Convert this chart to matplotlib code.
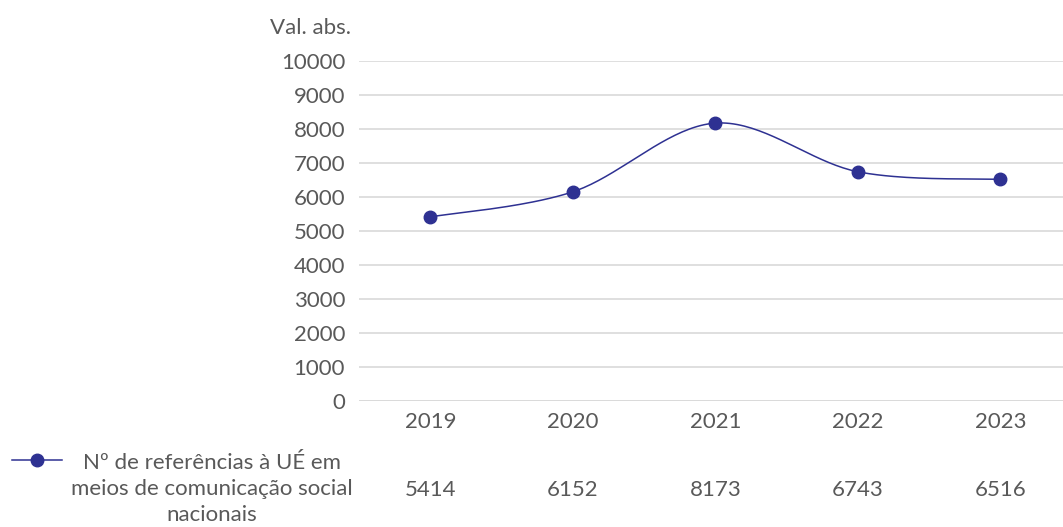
import numpy as np
import matplotlib.pyplot as plt
from matplotlib.transforms import blended_transform_factory
from matplotlib.lines import Line2D

plt.rcParams['font.family'] = ['Lato', 'DejaVu Sans']

years = ['2019', '2020', '2021', '2022', '2023']
values = [5414, 6152, 8173, 6743, 6516]
series_name = 'Nº de referências à UÉ em\nmeios de comunicação social\nnacionais'
y_title = 'Val. abs.'

text_col = '#595959'
line_col = '#2E3192'
grid_col = '#D9D9D9'
fs = 16


def smooth_curve(x, y, yscale, n=40):
    # Excel-like smoothing: Bezier segments with Catmull-Rom control points (1/6)
    px = np.array(x, dtype=float)
    py = np.array(y, dtype=float) * yscale
    P = np.column_stack([px, py])
    P = np.vstack([P[0], P, P[-1]])
    out = []
    t = np.linspace(0, 1, n)[:, None]
    for i in range(1, len(P) - 2):
        p0, p1 = P[i], P[i + 1]
        c1 = p0 + (P[i + 1] - P[i - 1]) / 6
        c2 = p1 - (P[i + 2] - P[i]) / 6
        seg = (1 - t) ** 3 * p0 + 3 * (1 - t) ** 2 * t * c1 + 3 * (1 - t) * t ** 2 * c2 + t ** 3 * p1
        out.append(seg)
    out = np.vstack(out)
    return out[:, 0], out[:, 1] / yscale


fig = plt.figure(figsize=(10.63, 5.27), dpi=100)
ax = fig.add_axes([359 / 1063, 126 / 527, 1 - 359 / 1063, 340 / 527])

x = np.arange(len(years))
# pixels per unit: x 142.5, y 0.034
sx, sy = smooth_curve(x, values, 0.034 / 142.5)
ax.plot(sx, sy, color=line_col, lw=1.1, zorder=3)
ax.plot(x, values, 'o', color=line_col, ms=9, zorder=4)

ax.set_xlim(-0.5, 4.44)
ax.set_ylim(0, 10000)
ax.set_yticks(np.arange(0, 10001, 1000))
ax.yaxis.grid(True, color=grid_col, lw=1.2)
ax.set_axisbelow(True)
for s in ax.spines.values():
    s.set_visible(False)
ax.axhline(0, color=grid_col, lw=1.2)
ax.tick_params(axis='y', length=0, pad=10, labelsize=fs, labelcolor=text_col)
ax.set_xticks(x)
ax.set_xticklabels(years)
ax.tick_params(axis='x', length=0, pad=8, labelsize=fs, labelcolor=text_col)

fig.text(310 / 1063, 1 - 28 / 527, y_title, ha='center', va='center',
         fontsize=fs, color=text_col)

# data table row
trans = blended_transform_factory(ax.transData, fig.transFigure)
for xi, v in zip(x, values):
    ax.text(xi, 1 - 490 / 527, str(v), transform=trans, ha='center', va='center',
            fontsize=fs, color=text_col)

fig.text(212 / 1063, 1 - 489 / 527, series_name, ha='center', va='center',
         fontsize=fs, color=text_col, linespacing=1.38)
fig.add_artist(Line2D([12 / 1063, 62 / 1063], [1 - 460 / 527] * 2, color=line_col, lw=1.1,
                      transform=fig.transFigure))
fig.add_artist(Line2D([37 / 1063], [1 - 460 / 527], marker='o', color=line_col, ms=9,
                      transform=fig.transFigure))

fig.savefig('out.png', dpi=100)
